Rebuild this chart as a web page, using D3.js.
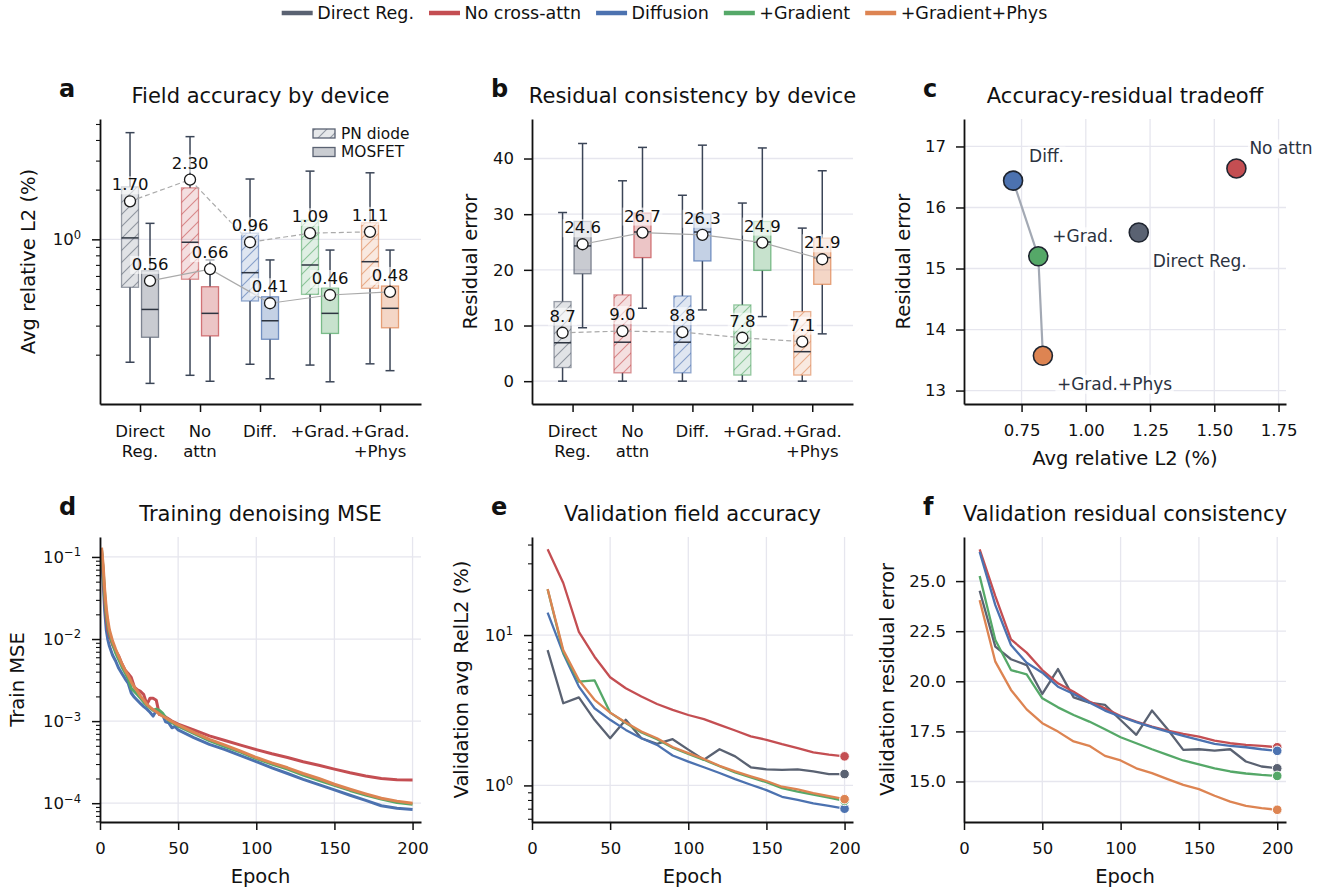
<!DOCTYPE html>
<html>
<head>
<meta charset="utf-8">
<script src="https://cdn.jsdelivr.net/npm/d3@7"></script>
<style>
  body { margin: 0; background: #fff; }
  svg { display: block; font-family: "DejaVu Sans", sans-serif; }
</style>
</head>
<body>
<svg id="fig" width="1335" height="891"></svg>
<script>
// ---- data ----
var legendNames = ["Direct Reg.", "No cross-attn", "Diffusion", "+Gradient", "+Gradient+Phys"];
var modelColors = ["#5a6272", "#c44e52", "#4c72b0", "#55a868", "#dd8452"];
var boxLabels = [["Direct", "Reg."], ["No", "attn"], ["Diff."], ["+Grad."], ["+Grad.", "+Phys"]];
var deviceNames = ["PN diode", "MOSFET"];

// box stats: [low whisker, q1, median, q3, high whisker]
var accPN = [
  [0.18, 0.512, 1.02, 2.08, 4.43],
  [0.15, 0.573, 0.96, 2.05, 4.19],
  [0.175, 0.423, 0.628, 1.09, 2.32],
  [0.173, 0.464, 0.699, 1.31, 2.59],
  [0.176, 0.505, 0.732, 1.26, 2.53]
];
var accPNMean = [1.70, 2.30, 0.96, 1.09, 1.11];
var accMOS = [
  [0.134, 0.255, 0.376, 0.645, 1.25],
  [0.138, 0.26, 0.356, 0.516, 0.75],
  [0.143, 0.248, 0.321, 0.449, 0.75],
  [0.137, 0.269, 0.356, 0.509, 0.861],
  [0.16, 0.291, 0.382, 0.521, 0.861]
];
var accMOSMean = [0.56, 0.66, 0.41, 0.46, 0.48];

var resPN = [
  [0, 2.45, 6.9, 14.3, 30.3],
  [0, 1.5, 7.0, 15.5, 36.0],
  [0, 1.5, 7.0, 15.3, 33.4],
  [0, 1.1, 5.8, 13.7, 32.0],
  [0, 1.1, 5.3, 12.5, 27.5]
];
var resPNMean = [8.7, 9.0, 8.8, 7.8, 7.1];
var resMOS = [
  [9.6, 19.3, 24.3, 28.7, 42.7],
  [13.1, 22.2, 26.8, 30.2, 42.0],
  [12.8, 21.6, 26.8, 30.0, 42.4],
  [11.6, 19.9, 25.0, 28.7, 41.9],
  [8.5, 17.4, 22.2, 25.7, 37.8]
];
var resMOSMean = [24.6, 26.7, 26.3, 24.9, 21.9];

var tradeNames = ["Direct Reg.", "No attn", "Diff.", "+Grad.", "+Grad.+Phys"];
var tradeL2 = [1.206, 1.586, 0.717, 0.815, 0.833];
var tradeRes = [15.59, 16.64, 16.44, 15.20, 13.57];

var trainEpochs = [1, 2, 3, 4, 5, 6, 8, 10, 12, 14, 16, 18, 20, 22, 24, 26, 28, 30, 32, 34, 36, 38, 40,
  42, 44, 46, 48, 50, 60, 70, 80, 90, 100, 110, 120, 130, 140, 150, 160, 170, 180, 190, 200];
var trainNoAttn = [0.12, 0.065, 0.03, 0.018, 0.013, 0.011, 0.0085, 0.0072, 0.0062, 0.005, 0.0042, 0.0038,
  0.0034, 0.0026, 0.0024, 0.0023, 0.0021, 0.0016, 0.0019, 0.0019, 0.0018, 0.0012, 0.00118, 0.00112,
  0.00106, 0.001, 0.00096, 0.00092, 0.00078, 0.00066, 0.00058, 0.00051, 0.00045, 0.0004, 0.00036,
  0.00032, 0.00029, 0.00026, 0.000235, 0.000215, 0.0002, 0.000193, 0.000192];
var trainDiff = [0.11, 0.05, 0.022, 0.013, 0.0098, 0.0082, 0.0064, 0.0054, 0.0044, 0.0038, 0.0033, 0.0029,
  0.0022, 0.00195, 0.00178, 0.00163, 0.0015, 0.0014, 0.00128, 0.00115, 0.00135, 0.00128, 0.0012, 0.00098,
  0.00095, 0.00083, 0.00086, 0.00078, 0.00063, 0.00052, 0.00045, 0.00038, 0.00032, 0.00027, 0.00023,
  0.000195, 0.000168, 0.000145, 0.000125, 0.000108, 0.000093, 0.000087, 0.000084];
var trainGrad = [0.12, 0.07, 0.035, 0.021, 0.015, 0.012, 0.0088, 0.0068, 0.0056, 0.0046, 0.0039, 0.0033,
  0.0025, 0.0023, 0.0021, 0.0019, 0.0017, 0.00155, 0.00145, 0.00135, 0.0014, 0.00135, 0.00125, 0.0011,
  0.00102, 0.00096, 0.00092, 0.00087, 0.00071, 0.00058, 0.00049, 0.00042, 0.00035, 0.0003, 0.00026,
  0.00022, 0.00019, 0.000165, 0.000143, 0.000126, 0.000112, 0.000102, 0.000097];
var trainPhys = [0.13, 0.08, 0.04, 0.024, 0.017, 0.013, 0.0095, 0.0075, 0.0061, 0.005, 0.0042, 0.0036,
  0.003, 0.0026, 0.0023, 0.002, 0.0018, 0.0016, 0.00148, 0.00138, 0.0013, 0.00122, 0.00115, 0.0011,
  0.00104, 0.00099, 0.00094, 0.0009, 0.00073, 0.0006, 0.00051, 0.00043, 0.00036, 0.00031, 0.00027,
  0.00023, 0.0002, 0.00017, 0.000148, 0.00013, 0.000115, 0.000106, 0.0001];

var valEpochs = [10, 20, 30, 40, 50, 60, 70, 80, 90, 100, 110, 120, 130, 140, 150, 160, 170, 180, 190, 200];
var valL2Direct = [7.94, 3.52, 3.85, 2.73, 2.06, 2.73, 2.06, 1.89, 2.03, 1.73, 1.48, 1.74, 1.56, 1.32, 1.28, 1.27, 1.28, 1.24, 1.19, 1.19];
var valL2NoAttn = [37.2, 22.2, 10.5, 7.18, 5.24, 4.43, 3.90, 3.48, 3.18, 2.94, 2.76, 2.53, 2.32, 2.12, 2.01, 1.88, 1.77, 1.66, 1.60, 1.56];
var valL2Diff = [14.1, 7.55, 4.54, 3.26, 2.73, 2.34, 2.06, 1.86, 1.58, 1.44, 1.32, 1.21, 1.10, 1.01, 0.93, 0.84, 0.80, 0.76, 0.73, 0.70];
var valL2Grad = [20.2, 7.7, 4.9, 5.0, 3.05, 2.6, 2.25, 2.03, 1.78, 1.62, 1.48, 1.34, 1.22, 1.13, 1.05, 0.96, 0.91, 0.87, 0.83, 0.79];
var valL2Phys = [20.2, 7.94, 5.03, 3.71, 3.05, 2.62, 2.28, 2.06, 1.80, 1.64, 1.50, 1.35, 1.24, 1.15, 1.07, 0.98, 0.94, 0.89, 0.85, 0.81];

var valResDirect = [24.52, 21.73, 21.1, 20.81, 19.37, 20.61, 19.2, 18.94, 18.82, 18.07, 17.33, 18.54, 17.61, 16.58, 16.61, 16.54, 16.61, 16.0, 15.75, 15.66];
var valResNoAttn = [26.58, 24.25, 22.09, 21.43, 20.56, 19.9, 19.48, 18.99, 18.65, 18.27, 17.99, 17.74, 17.54, 17.38, 17.24, 17.04, 16.91, 16.83, 16.78, 16.71];
var valResDiff = [26.46, 23.8, 21.81, 20.93, 20.43, 19.73, 19.37, 18.94, 18.54, 18.24, 17.96, 17.71, 17.49, 17.28, 17.08, 16.88, 16.78, 16.71, 16.61, 16.53];
var valResGrad = [25.25, 22.06, 20.56, 20.35, 19.15, 18.7, 18.32, 17.99, 17.61, 17.21, 16.91, 16.61, 16.33, 16.05, 15.86, 15.66, 15.5, 15.4, 15.33, 15.28];
var valResPhys = [24.05, 20.98, 19.57, 18.6, 17.91, 17.49, 17.0, 16.78, 16.28, 16.05, 15.66, 15.42, 15.12, 14.83, 14.62, 14.29, 14.0, 13.79, 13.67, 13.59];

// ---- layout / style ----
var FONT = "'DejaVu Sans', sans-serif";
var ink = "#111111";
var gridColor = "#e6e6ee";
var whiskerColor = "#3b4557";
var tickFont = 16.5;

var boxA = {l: 100, r: 421, t: 119, b: 404};
var boxB = {l: 532, r: 853, t: 119, b: 404};
var boxC = {l: 964, r: 1286, t: 119, b: 404};
var boxD = {l: 100, r: 421, t: 537, b: 822};
var boxE = {l: 532, r: 853, t: 537, b: 822};
var boxF = {l: 964, r: 1286, t: 537, b: 822};

var svg = d3.select("#fig");
var defs = svg.append("defs");
modelColors.forEach(function(c, i) {
  var p = defs.append("pattern").attr("id", "hatch" + i)
    .attr("patternUnits", "userSpaceOnUse").attr("width", 12).attr("height", 12);
  p.append("path").attr("d", "M-3,3 L3,-3 M0,12 L12,0 M9,15 L15,9")
    .attr("stroke", c).attr("stroke-opacity", 0.6).attr("stroke-width", 1.1).attr("fill", "none");
});

function styleAxis(g, major) {
  g.attr("font-family", FONT).attr("font-size", tickFont);
  g.select(".domain").attr("stroke", ink).attr("stroke-width", 1.8);
  g.selectAll(".tick line").attr("stroke", ink).attr("stroke-width", major ? 1.5 : 1.1);
  g.selectAll(".tick text").attr("fill", ink);
}

function leftAxis(box, y, ticks, fmt, log) {
  var g = svg.append("g").attr("transform", "translate(" + box.l + ",0)")
    .call(d3.axisLeft(y).tickValues(ticks).tickSize(8).tickSizeOuter(0).tickPadding(log ? 11 : 10).tickFormat(fmt || null));
  styleAxis(g, true);
  if (log) {
    g.selectAll(".tick text").each(function(d) {
      var e = Math.round(Math.log10(d));
      var t = d3.select(this).text("10");
      t.append("tspan").attr("dy", "-0.55em").attr("font-size", "0.7em").text(e < 0 ? "\u2212" + (-e) : e);
    });
  }
  return g;
}

function minorLeft(box, y, vals) {
  var g = svg.append("g").attr("transform", "translate(" + box.l + ",0)")
    .call(d3.axisLeft(y).tickValues(vals).tickSize(4).tickSizeOuter(0).tickFormat(""));
  g.select(".domain").remove();
  g.selectAll(".tick line").attr("stroke", ink).attr("stroke-width", 1.1);
}

function bottomAxis(box, x, ticks, fmt) {
  var g = svg.append("g").attr("transform", "translate(0," + box.b + ")")
    .call(d3.axisBottom(x).tickValues(ticks).tickSize(8).tickSizeOuter(0).tickPadding(12).tickFormat(fmt || null));
  styleAxis(g, true);
  return g;
}

function categoryAxis(box, x) {
  var g = bottomAxis(box, x, d3.range(boxLabels.length), function() { return ""; });
  g.selectAll(".tick text").remove();
  boxLabels.forEach(function(lines, i) {
    var t = g.append("text").attr("text-anchor", "middle").attr("fill", ink)
      .attr("font-size", tickFont).attr("x", x(i)).attr("y", 32.5);
    lines.forEach(function(s, k) {
      t.append("tspan").attr("x", x(i)).attr("dy", k === 0 ? 0 : 20).text(s);
    });
  });
}

function hGrid(box, y, vals) {
  svg.append("g").selectAll("line").data(vals).join("line")
    .attr("x1", box.l).attr("x2", box.r).attr("y1", function(d) { return y(d); }).attr("y2", function(d) { return y(d); })
    .attr("stroke", gridColor).attr("stroke-width", 1.3);
}
function vGrid(box, x, vals) {
  svg.append("g").selectAll("line").data(vals).join("line")
    .attr("y1", box.t).attr("y2", box.b).attr("x1", function(d) { return x(d); }).attr("x2", function(d) { return x(d); })
    .attr("stroke", gridColor).attr("stroke-width", 1.3);
}

function heading(box, letter, text, baseline) {
  svg.append("text").attr("x", box.l - 41).attr("y", baseline - 6).attr("font-size", 24)
    .attr("font-weight", "bold").attr("fill", ink).text(letter);
  svg.append("text").attr("x", (box.l + box.r) / 2).attr("y", baseline).attr("text-anchor", "middle")
    .attr("font-size", 21).attr("fill", ink).text(text);
}

function yLabel(cx, box, text) {
  var cy = (box.t + box.b) / 2;
  svg.append("text").attr("transform", "translate(" + cx + "," + cy + ") rotate(-90)")
    .attr("text-anchor", "middle").attr("dy", "0.35em").attr("font-size", 19.5).attr("fill", ink).text(text);
}
function xLabel(cy, box, text) {
  svg.append("text").attr("x", (box.l + box.r) / 2).attr("y", cy).attr("dy", "0.35em")
    .attr("text-anchor", "middle").attr("font-size", 19.5).attr("fill", ink).text(text);
}

function bgText(g, x, y, txt, opts) {
  var t = g.append("text").attr("x", x).attr("y", y).attr("text-anchor", opts.anchor || "middle")
    .attr("font-size", opts.size).attr("fill", opts.color || ink).text(txt);
  var bb = t.node().getBBox();
  g.insert("rect", function() { return t.node(); })
    .attr("x", bb.x - 1.5).attr("y", bb.y + 1).attr("width", bb.width + 3).attr("height", bb.height - 1)
    .attr("fill", "#fff").attr("fill-opacity", opts.alpha || 0.7);
}

var BW = 17, OFF = 10;
function drawBoxes(g, x, y, stats, pn) {
  stats.forEach(function(s, i) {
    var c = modelColors[i];
    var cx = x(i) + (pn ? -OFF : OFF);
    [[s[0], s[1]], [s[3], s[4]]].forEach(function(seg) {
      g.append("line").attr("x1", cx).attr("x2", cx).attr("y1", y(seg[0])).attr("y2", y(seg[1]))
        .attr("stroke", whiskerColor).attr("stroke-width", 1.5);
    });
    [s[0], s[4]].forEach(function(v) {
      g.append("line").attr("x1", cx - 4.5).attr("x2", cx + 4.5).attr("y1", y(v)).attr("y2", y(v))
        .attr("stroke", whiskerColor).attr("stroke-width", 1.5);
    });
    var top = y(s[3]), h = y(s[1]) - y(s[3]);
    g.append("rect").attr("x", cx - BW / 2).attr("y", top).attr("width", BW).attr("height", h)
      .attr("fill", c).attr("fill-opacity", pn ? 0.18 : 0.33);
    if (pn) {
      g.append("rect").attr("x", cx - BW / 2).attr("y", top).attr("width", BW).attr("height", h)
        .attr("fill", "url(#hatch" + i + ")");
    }
    g.append("rect").attr("x", cx - BW / 2).attr("y", top).attr("width", BW).attr("height", h)
      .attr("fill", "none").attr("stroke", c).attr("stroke-opacity", pn ? 0.6 : 0.75).attr("stroke-width", 1.3);
    g.append("line").attr("x1", cx - BW / 2).attr("x2", cx + BW / 2).attr("y1", y(s[2])).attr("y2", y(s[2]))
      .attr("stroke", "#2d3440").attr("stroke-width", 1.5);
  });
}

function drawMeans(g, x, y, means, pn) {
  var off = pn ? -OFF : OFF;
  g.append("path").datum(means)
    .attr("d", d3.line().x(function(d, i) { return x(i) + off; }).y(function(d) { return y(d); }))
    .attr("fill", "none").attr("stroke", "#aaaaaa").attr("stroke-width", 1.2)
    .attr("stroke-dasharray", pn ? "5,3" : null);
  means.forEach(function(m, i) {
    g.append("circle").attr("cx", x(i) + off).attr("cy", y(m)).attr("r", 5.5)
      .attr("fill", "#fff").attr("stroke", "#1a1a1a").attr("stroke-width", 1.3);
  });
}
function drawMeanLabels(g, x, y, means, pn, fmt) {
  var off = pn ? -OFF : OFF;
  means.forEach(function(m, i) {
    bgText(g, x(i) + off, y(m) - 11, fmt(m), {size: tickFont, alpha: 0.6});
  });
}

// ---- top legend ----
(function() {
  var lg = svg.append("g");
  var xp = 0;
  legendNames.forEach(function(name, i) {
    lg.append("line").attr("x1", xp).attr("x2", xp + 31).attr("y1", 13).attr("y2", 13)
      .attr("stroke", modelColors[i]).attr("stroke-width", 4.5);
    var t = lg.append("text").attr("x", xp + 35.5).attr("y", 13).attr("dy", "0.35em")
      .attr("font-size", 17.5).attr("fill", ink).text(name);
    xp += 35.5 + t.node().getComputedTextLength() + 15;
  });
  var total = xp - 15;
  lg.attr("transform", "translate(" + (664.5 - total / 2) + ",0)");
})();

// ---- panel a ----
(function() {
  var x = d3.scaleLinear().domain([-0.667, 4.683]).range([boxA.l, boxA.r]);
  var y = d3.scaleLog().domain([0.1005, 5.36]).range([boxA.b, boxA.t]);
  hGrid(boxA, y, [1]);
  var g = svg.append("g");
  drawBoxes(g, x, y, accPN, true);
  drawBoxes(g, x, y, accMOS, false);
  drawMeans(g, x, y, accPNMean, true);
  drawMeans(g, x, y, accMOSMean, false);
  drawMeanLabels(g, x, y, accPNMean, true, d3.format(".2f"));
  drawMeanLabels(g, x, y, accMOSMean, false, d3.format(".2f"));
  minorLeft(boxA, y, [0.2, 0.3, 0.4, 0.5, 0.6, 0.7, 0.8, 0.9, 2, 3, 4, 5]);
  leftAxis(boxA, y, [1], null, true);
  categoryAxis(boxA, x);
  heading(boxA, "a", "Field accuracy by device", 103);
  yLabel(28.5, boxA, "Avg relative L2 (%)");

  // device legend
  var lg = svg.append("g");
  deviceNames.forEach(function(name, k) {
    var yy = 129 + k * 18.5;
    lg.append("rect").attr("x", 313).attr("y", yy).attr("width", 22).attr("height", 9)
      .attr("fill", modelColors[0]).attr("fill-opacity", k === 0 ? 0.15 : 0.32);
    if (k === 0) lg.append("rect").attr("x", 313).attr("y", yy).attr("width", 22).attr("height", 9).attr("fill", "url(#hatch0)");
    lg.append("rect").attr("x", 313).attr("y", yy).attr("width", 22).attr("height", 9)
      .attr("fill", "none").attr("stroke", modelColors[0]).attr("stroke-width", 1.3);
    lg.append("text").attr("x", 341).attr("y", yy + 4.5).attr("dy", "0.35em").attr("font-size", 15.4)
      .attr("fill", ink).text(name);
  });
})();

// ---- panel b ----
(function() {
  var x = d3.scaleLinear().domain([-0.677, 4.68]).range([boxB.l, boxB.r]);
  var y = d3.scaleLinear().domain([-4.1, 47.1]).range([boxB.b, boxB.t]);
  hGrid(boxB, y, [0, 10, 20, 30, 40]);
  var g = svg.append("g");
  drawBoxes(g, x, y, resPN, true);
  drawBoxes(g, x, y, resMOS, false);
  drawMeans(g, x, y, resPNMean, true);
  drawMeans(g, x, y, resMOSMean, false);
  drawMeanLabels(g, x, y, resPNMean, true, d3.format(".1f"));
  drawMeanLabels(g, x, y, resMOSMean, false, d3.format(".1f"));
  leftAxis(boxB, y, [0, 10, 20, 30, 40]);
  categoryAxis(boxB, x);
  heading(boxB, "b", "Residual consistency by device", 103);
  yLabel(470.5, boxB, "Residual error");
})();

// ---- panel c ----
(function() {
  var x = d3.scaleLinear().domain([0.526, 1.779]).range([boxC.l, boxC.r]);
  var y = d3.scaleLinear().domain([12.78, 17.45]).range([boxC.b, boxC.t]);
  var xt = [0.75, 1.0, 1.25, 1.5, 1.75], yt = [13, 14, 15, 16, 17];
  hGrid(boxC, y, yt);
  vGrid(boxC, x, xt);
  var chain = [2, 3, 4];
  svg.append("path").datum(chain)
    .attr("d", d3.line().x(function(i) { return x(tradeL2[i]); }).y(function(i) { return y(tradeRes[i]); }))
    .attr("fill", "none").attr("stroke", "#a3a9b4").attr("stroke-width", 2.2);
  var labelOffsets = [[14, 28], [13, -20], [16, -25], [14, -20], [14, 28]];
  var g = svg.append("g");
  tradeNames.forEach(function(name, i) {
    g.append("circle").attr("cx", x(tradeL2[i])).attr("cy", y(tradeRes[i])).attr("r", 9.5)
      .attr("fill", modelColors[i]).attr("stroke", "#1f2530").attr("stroke-width", 1.6);
  });
  tradeNames.forEach(function(name, i) {
    bgText(g, x(tradeL2[i]) + labelOffsets[i][0], y(tradeRes[i]) + labelOffsets[i][1] + 6, name,
      {size: 17, anchor: "start", color: "#2b3240", alpha: 0.75});
  });
  leftAxis(boxC, y, yt, d3.format("d"));
  bottomAxis(boxC, x, xt, d3.format(".2f"));
  heading(boxC, "c", "Accuracy-residual tradeoff", 103);
  yLabel(903, boxC, "Residual error");
  xLabel(458.5, boxC, "Avg relative L2 (%)");
})();

// ---- panel d ----
(function() {
  var x = d3.scaleLinear().domain([0, 205.4]).range([boxD.l, boxD.r]);
  var y = d3.scaleLog().domain([5.9e-5, 0.175]).range([boxD.b, boxD.t]);
  var xt = [0, 50, 100, 150, 200];
  hGrid(boxD, y, [1e-4, 1e-3, 1e-2, 1e-1]);
  vGrid(boxD, x, xt);
  var series = [[2, trainDiff], [1, trainNoAttn], [3, trainGrad], [4, trainPhys]];
  var line = d3.line().x(function(d, k) { return x(trainEpochs[k]); }).y(function(d) { return y(d); });
  series.forEach(function(s) {
    svg.append("path").datum(s[1]).attr("d", line).attr("fill", "none")
      .attr("stroke", modelColors[s[0]]).attr("stroke-width", 3).attr("stroke-linejoin", "round");
  });
  var minors = [];
  [1e-5, 1e-4, 1e-3, 1e-2].forEach(function(dec) {
    d3.range(2, 10).forEach(function(m) {
      var v = m * dec;
      if (v > 5.9e-5 && v < 0.175) minors.push(v);
    });
  });
  minorLeft(boxD, y, minors);
  leftAxis(boxD, y, [1e-4, 1e-3, 1e-2, 1e-1], null, true);
  bottomAxis(boxD, x, xt);
  heading(boxD, "d", "Training denoising MSE", 521);
  yLabel(17.5, boxD, "Train MSE");
  xLabel(876, boxD, "Epoch");
})();

function drawValCurves(box, x, y, seriesList) {
  var line = d3.line().x(function(d, k) { return x(valEpochs[k]); }).y(function(d) { return y(d); });
  seriesList.forEach(function(vals, i) {
    svg.append("path").datum(vals).attr("d", line).attr("fill", "none")
      .attr("stroke", modelColors[i]).attr("stroke-width", 2.3).attr("stroke-linejoin", "round");
  });
  seriesList.forEach(function(vals, i) {
    var n = vals.length - 1;
    svg.append("circle").attr("cx", x(valEpochs[n])).attr("cy", y(vals[n])).attr("r", 4.8)
      .attr("fill", modelColors[i]).attr("stroke", "#fff").attr("stroke-width", 1);
  });
}

// ---- panel e ----
(function() {
  var x = d3.scaleLinear().domain([0, 205.4]).range([boxE.l, boxE.r]);
  var y = d3.scaleLog().domain([0.571, 44.9]).range([boxE.b, boxE.t]);
  var xt = [0, 50, 100, 150, 200];
  hGrid(boxE, y, [1, 10]);
  vGrid(boxE, x, xt);
  drawValCurves(boxE, x, y, [valL2Direct, valL2NoAttn, valL2Diff, valL2Grad, valL2Phys]);
  minorLeft(boxE, y, [0.6, 0.7, 0.8, 0.9, 2, 3, 4, 5, 6, 7, 8, 9, 20, 30, 40]);
  leftAxis(boxE, y, [1, 10], null, true);
  bottomAxis(boxE, x, xt);
  heading(boxE, "e", "Validation field accuracy", 521);
  yLabel(461, boxE, "Validation avg RelL2 (%)");
  xLabel(876, boxE, "Epoch");
})();

// ---- panel f ----
(function() {
  var x = d3.scaleLinear().domain([0, 205.6]).range([boxF.l, boxF.r]);
  var y = d3.scaleLinear().domain([12.98, 27.2]).range([boxF.b, boxF.t]);
  var xt = [0, 50, 100, 150, 200], yt = [15, 17.5, 20, 22.5, 25];
  hGrid(boxF, y, yt);
  vGrid(boxF, x, xt);
  drawValCurves(boxF, x, y, [valResDirect, valResNoAttn, valResDiff, valResGrad, valResPhys]);
  leftAxis(boxF, y, yt, d3.format(".1f"));
  bottomAxis(boxF, x, xt);
  heading(boxF, "f", "Validation residual consistency", 521);
  yLabel(887, boxF, "Validation residual error");
  xLabel(876, boxF, "Epoch");
})();
</script>
</body>
</html>
